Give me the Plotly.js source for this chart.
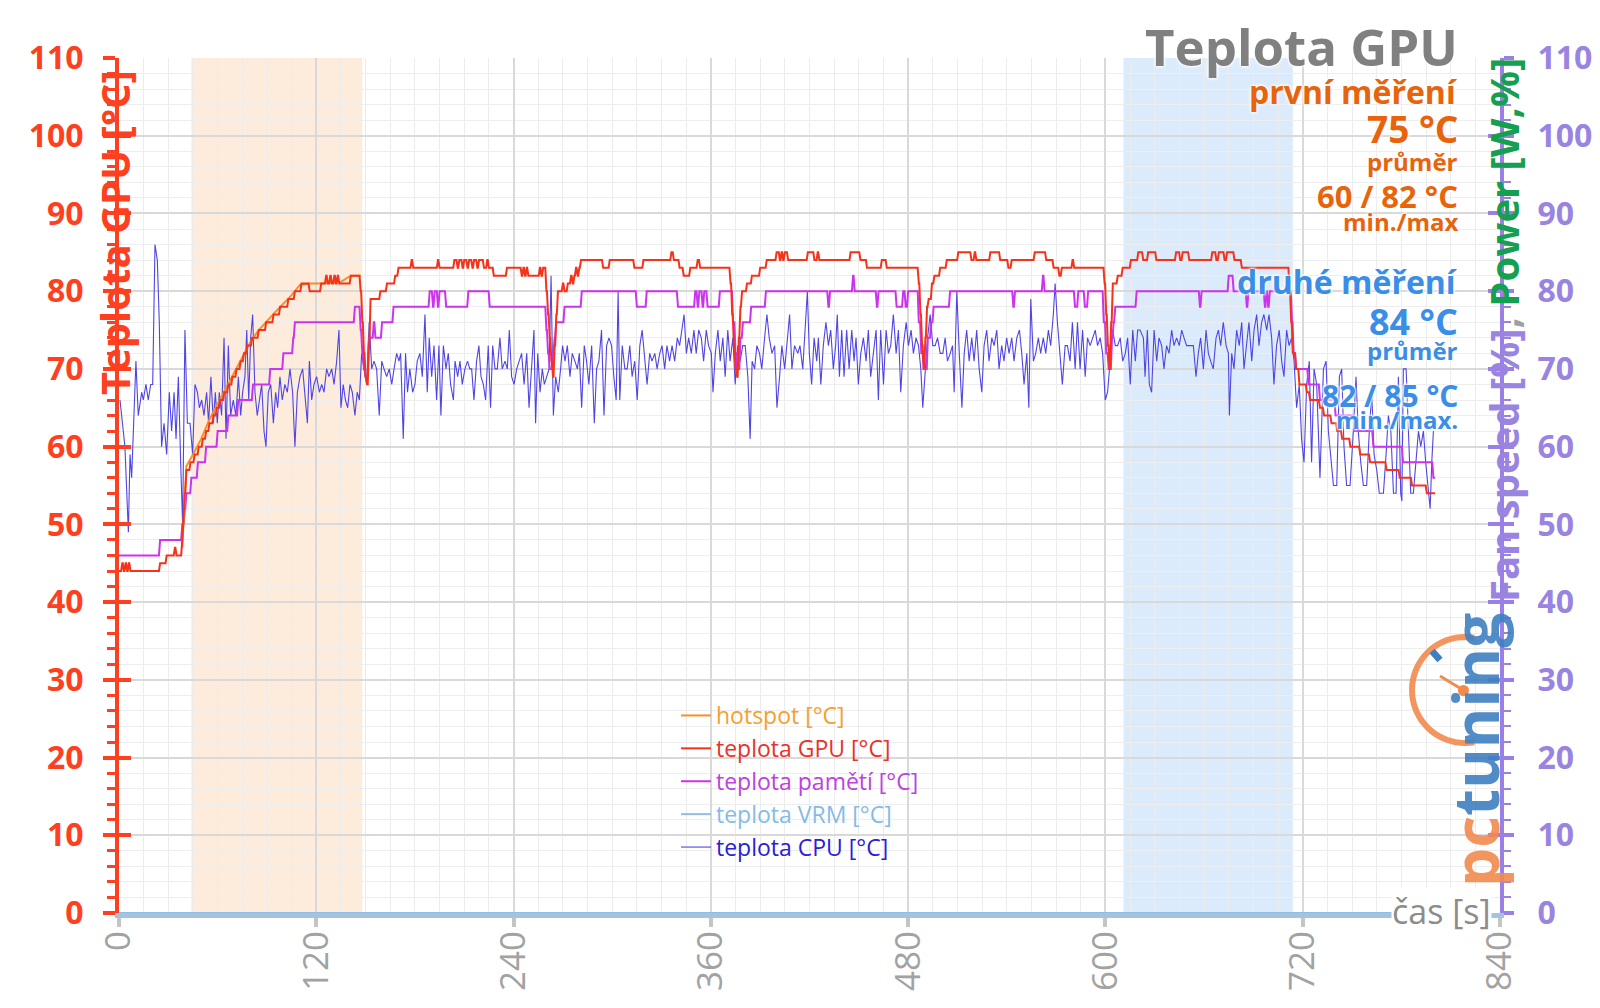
<!DOCTYPE html>
<html><head><meta charset="utf-8">
<script src="https://cdn.plot.ly/plotly-3.0.1.min.js"></script>
<style>html,body{margin:0;padding:0;background:#fff}#chart{width:1600px;height:1008px}</style>
</head><body><div id="chart"></div>
<script>
// ---------------- DATA ----------------
const xTicks = [0, 120, 240, 360, 480, 600, 720, 840];
const yTicks = [0, 10, 20, 30, 40, 50, 60, 70, 80, 90, 100, 110];
const firstWindow = [44, 148];
const secondWindow = [611, 714];
const seriesNames = ['hotspot [°C]', 'teplota GPU [°C]', 'teplota pamětí [°C]', 'teplota VRM [°C]', 'teplota CPU [°C]'];
const summaryFirst = ['první měření', '75 °C', 'průměr', '60 / 82 °C', 'min./max'];
const summarySecond = ['druhé měření', '84 °C', 'průměr', '82 / 85 °C', 'min./max.'];

// GPU temperature, step breakpoints [time s, °C] (value holds until the next breakpoint)
const gpuSteps = [[0,44],[2,45],[3,44],[4,45],[5,44],[6,45],[7,44],[25,45],[29,46],[34,47],[35,46],
[38.5,48],[39,51],[40,54],[41,57],[43.5,58],[46,59],[48.5,60],[51,61],[53,62],[55,63],[57.5,64],[59.5,65],[61.5,66],[64,67],[66.5,68],[69,69],[71.5,70],[74,71],[76,72],[78,73],[81,74],[85,75],[89.5,76],[94,77],[98,78],[103,79],[107,80],[111,81],[116,80],[123,81],[126,82],[127,81],[128.5,82],[129.5,81],[131,82],[132,81],[133,82],[134,81],[141,82],
[147,80],[148,76],[149,72],[150,69],[151,68],[152,73],[153,79],[159,80],[163,81],[168,82],[170,83],[178,84],[179,83],[194,84],[195,83],
[204,84],[206,83],[207,84],[209,83],[210,84],[212,83],[213,84],[215,83],[216,84],[218,83],[219,84],[222,83],[224,84],[225,83],
[228,82],[236,83],[245,82],[246,83],[247,82],[248,83],[249,82],[256,83],[257,82],[258,83],
[260,80],[261,77],[262,74],[263,71],[264,69],[265,73],[266,77],[267,80],[270,81],[271,80],[273,81],[275,82],[276,81],[277,82],[278,83],[279,82],[280,83],[281,84],
[294.5,83],[298.5,84],[313.5,83],[319,84],[336,85],[337.5,84],[341,83],[343.5,82],[347.5,83],[352,84],[353.5,83],
[372,81],[373,77],[374,73],[375,70],[376,69],[377,74],[378,78],[379,80],[382,81],[385,82],[390,83],[394,84],[400,85],[402,84],[403,85],[404,84],[405,85],[407,84],
[419,85],[423,84],[425,85],[426,84],[445,85],[451,84],[455,83],[464,84],[467,83],
[486.5,81],[487.5,77],[488.5,73],[489.5,70],[490.5,74],[491.5,78],[492.5,79],[494.5,81],[496,82],[499.5,83],[503.5,84],[510.5,85],[518.5,84],[520.5,85],[521.5,84],[530,85],[536,84],[541,83],[543,84],[557,85],[564,84],[568.5,83],[572,82],[573.5,83],[580,84],[581,83],
[599.5,81],[600.5,77],[601.5,73],[602.5,70],[603.5,76],[604.5,81],[607.5,82],[610.5,83],[615.5,84],[620,85],[623,84],[626,85],[631,84],[643,85],[645.5,84],[647,85],[651,84],[665,85],[667.5,84],[669,85],[672.5,84],[674,85],[678.5,84],[683,83],
[712,80],[713,76],[714,72],[716,70],[718,68],[722.5,67],[724.5,66],[730.5,65],[733,64],[737.5,63],[741,62],[744,61],[749,60],[755,59],[761,58],[771,57],[779,56],[786.5,55],[795.5,54],[800.5,54]];

// memory temperature, step breakpoints [time s, °C]
const memSteps = [[0,46],[25,48],[38.5,50],[40,52],[41,54],[44,56],[48,58],[53,60],[60,62],[66.5,64],[72.5,66],[81.5,68],[92,70],[100,72],[106,74],[107,76],[143.5,78],
[147,75],[148,72],[149,70],[150,69],[152,74],[155,76],[156,74],[160,76],[167,78],[189,80],[191,78],[192,80],[194,78],[195,80],[199,78],
[212.5,80],[225.5,78],[260,75],[261,72],[262,70],[264,72],[265,74],[266,76],[271,78],[281.5,80],[315,78],[321,80],[340,78],[350.5,80],[352,78],[353,80],[355,78],[356,80],[358,78],[365.5,80],
[373.5,76],[375,72],[376,70],[378,74],[379.5,76],[384.5,78],[393.5,80],
[431.5,78],[432.5,80],[446.5,82],[447.5,80],[461,78],[462,80],[473,78],[477,80],[478.5,78],[480,80],
[486.5,76],[488,72],[489.5,70],[492,74],[494,76],[495.5,78],[505.5,80],[544,78],[545,80],[562,82],[563,80],[581.5,78],[583.5,80],[587.5,78],[589.5,80],
[599,76],[600.5,72],[602,70],[604,74],[605,76],[606,78],[619,80],[657.5,78],[658.5,80],[675,82],[678,80],[686,78],[687,80],[697,78],[698,80],[699,78],[700,80],
[713.5,76],[714.5,72],[716,70],[723.5,68],[730.5,66],[740,64],[751.5,62],[763,60],[781,58],[799.5,56],[800.5,56]];

// hotspot [time s, °C] (visible during the first ramp)
const hotspotSamples = [[38.5,47],[41,57.5],[45,59],[50,61],[55,63.5],[60,65.5],[65,67.5],[70,69.5],[75,71.5],[80,73.5],[85,75],[90,76.2],[95,77.3],[100,78.4],[105,79.5],[110,80.8],[116,81],[124,81],[135,81.2],[141,82],[147,82]];

// VRM [time s, °C]
const vrmSamples = [[0,0],[800,0]];

// CPU temperature samples [time s, °C]
const cpuSamples = [[0.6,66],[3.6,60],[5.7,49],[6.7,59],[7.7,56],[10.3,71],[11.7,64],[13.8,67],[14.8,66],[16.4,68],[17.8,66],[19.3,68],[20.5,68],[21.9,86],[23.3,84],[24.5,76],[25.9,60],[27.4,63],[29,59],[30.6,67],[32,62],[33.5,67],[34.7,61],[36.1,69],[37.5,58],[38.7,50],[40.1,75],[41.6,63],[43.2,63],[44.8,59],[46.2,68],[47.7,67],[48.9,65],[50.3,66],[51.7,64],[53.3,67],[54.5,63],[55.9,69],[57.4,63],[58.6,67],[59.8,63],[61,67],[62.4,64],[63.9,74],[65.1,61],[66.5,73],[67.9,64],[69.5,66],[71.1,64],[72.6,69],[74,64],[75.2,67],[76.6,69],[77.7,75],[78.9,66],[80.1,74],[81.3,77],[82.7,67],[84.1,64],[85.3,66],[86.8,68],[88.2,62],[89.4,60],[90.8,67],[92.3,68],[93.9,63],[95.3,67],[96.5,65],[97.9,69],[99.3,66],[100.9,68],[102.4,67],[104,70],[105.6,67],[107,60],[108.5,67],[110.1,69],[111.7,70],[113.1,67],[114.6,63],[115.8,71],[117.2,66],[118.6,68],[120.2,69],[121.9,67],[123.3,68],[124.7,67],[126.3,70],[127.7,69],[129.4,70],[130.8,68],[132.4,71],[133.8,75],[135,65],[136.4,68],[137.7,66],[139.1,65],[140.5,68],[141.9,67],[143.5,64],[144.9,67],[146.2,66],[147.6,72],[149,70],[150.6,68],[152.2,76],[153.7,70],[155.1,71],[156.7,70],[158.3,64],[159.8,71],[161.2,70],[162.8,69],[164.4,70],[165.9,68],[167.3,70],[168.9,72],[170.3,71],[171.3,72],[172.9,61],[174.3,72],[175.5,67],[176.9,70],[178.6,67],[180,68],[181.4,71],[183,72],[184.5,69],[186.1,77],[187.5,67],[188.7,74],[190.2,69],[191.6,73],[193.2,66],[194.6,73],[195.8,64],[197.3,73],[198.9,70],[200.3,72],[201.7,68],[203.4,66],[204.4,71],
[206,69],[207.4,71],[208.8,68],[210.4,70],[212,71],[213.4,70],[214.5,70],[215.9,66],[217.5,71],[218.9,73],[220.2,69],[221.6,68],[223,66],[224.6,73],[226,65],[227.3,73],[228.7,70],[230.1,70],[231.7,74],[233.1,70],[234.8,71],[236.2,70],[237.4,75],[238.8,69],[240.3,68],[241.9,70],[243.3,71],[244.9,72],[246.4,68],[248,72],[249.4,65],[251,71],[252.4,75],[253.4,63],[254.7,72],[256.1,67],[257.5,70],[258.7,68],[260.2,69],[261.6,70],[262.8,82],[264.2,64],[265.6,69],[267.2,67],[268.6,70],[269.8,73],[271.3,71],[272.7,73],[274.3,69],[275.7,72],[277.3,71],[278.8,70],[280,72],[281.4,65],[283,73],[284.4,71],[285.8,68],[287.5,73],[289.1,63],[290.5,70],[291.9,71],[293.5,75],[295,64],[296.6,73],[298,74],[299.6,73],[301,69],[302.4,66],[303.6,80],[304.6,66],[306.1,73],[307.7,70],[309.1,70],[310.7,73],[312.1,69],[313.7,71],[315.2,66],[316.8,73],[318.2,75],[319.8,71],[321.2,68],[322.8,72],[324.2,71],[325.9,72],[327.3,70],[328.9,72],[330.3,73],[331.9,70],[333.3,73],[334.9,71],[336.4,73],[338,71],[339.6,74],[341,73],[342.4,75],[343.7,77],[345.1,72],[346.5,74],[348.1,72],[349.7,75],[351.1,72],[352.6,75],[354.2,74],[355.6,71],[357.2,75],[358.6,73],[360.3,72],[361.3,67],[362.7,72],[364.3,75],[365.7,71],[367.3,74],[368.7,69],[370.3,75],[371.7,71],[373.4,74],[374.8,68],[376.4,73],[377.8,71],[379.4,73],[380.9,73],[382.5,69],[383.9,61],[385.1,71],[386.6,70],[388,73],[389.6,72],[391,70],[392.7,74],[394.1,77],[395.5,74],[397.2,72],[398.8,73],[400.2,65],[401.8,69],[403.2,73],[404.9,70],[406.3,73],[407.9,77],[409.3,70],[410.9,73],[412.9,72],
[414.2,73],[415.9,70],[417.3,75],[418.7,80],[419.9,72],[421.3,68],[422.8,74],[424.4,71],[425.4,74],[426.9,68],[428.4,73],[430,76],[431.5,73],[432.9,75],[434.5,70],[435.9,73],[436.9,77],[438.2,69],[439.6,75],[441,69],[442.6,75],[444.1,70],[445.7,75],[447.1,71],[448.3,74],[449.7,68],[451.2,72],[452.8,74],[454.4,71],[455.8,75],[457.2,69],[458.9,72],[460.5,75],[461.9,66],[463.3,75],[465,68],[466.6,75],[468,72],[469.4,73],[471,77],[472.7,72],[474.1,75],[475.5,67],[477.1,73],[478.8,76],[480.2,73],[481.8,75],[483.2,72],[484.8,74],[486.3,73],[487.7,70],[488.9,65],[490.3,70],[491.8,74],[493.4,77],[495,73],[496.4,73],[497.9,74],[499.5,72],[501.1,72],[502.5,74],[503.9,71],[505.6,72],[507,73],[508,67],[509.6,80],[511.1,72],[512.7,65],[514.1,72],[515.6,75],[517.1,71],[518.7,74],[520.1,71],[521.7,75],[523.2,70],[524.8,67],[526.2,73],[527.8,75],[529.2,71],[530.9,74],[532.3,73],[533.9,75],[535.3,70],[536.9,73],[538.3,71],[539.9,74],[541.4,72],[543,74],[544.4,71],[546.1,74],[547.7,75],[549.1,72],[550.5,68],[552.2,72],[553.4,65],[554.6,79],[556.2,71],[557.6,72],[559.2,74],[560.6,72],[562.2,74],[563.7,72],[565.3,75],[566.7,73],[568.3,77],[569.4,81],[570.8,76],[572.4,72],[573.8,68],[575.5,73],[576.9,73],[578.5,71],[579.9,76],[581.6,70],[583,76],[584.6,70],[586.1,75],[587.7,69],[589.1,74],[590.7,73],[592.2,74],[593.8,75],[595.2,73],[596.8,74],[598.3,72],[599.9,66],[601.3,67],[603,71],[604.4,75],[606,73],[607.4,73],[609,74],[610.5,71],[612.1,72],[613.5,74],[615.1,68],[616.6,75],[618.2,71],[619.6,75],
[621,75],[623.1,74],[624.1,69],[625.5,75],[626.7,68],[628.1,67],[629.6,75],[631.2,71],[632.6,74],[634.2,73],[635.6,70],[637.2,73],[638.7,72],[640.3,75],[641.7,73],[643.3,74],[644.9,73],[646.4,75],[647.8,74],[649.4,73],[651.4,73],[653.5,73],[655.1,69],[656.5,72],[657.9,74],[659.6,70],[661.2,75],[662.6,72],[664,71],[665.6,70],[667.3,74],[668.7,75],[670.1,73],[671.7,76],[673.4,73],[674.8,72],[675.4,64],[676.8,72],[678.2,70],[679.8,75],[681.4,73],[682.9,76],[684.3,70],[685.9,73],[687.3,76],[689,71],[690.4,75],[692,77],[693.4,73],[695,76],[696.4,77],[698.1,75],[699.5,77],[701.1,74],[702.5,68],[704.1,73],[705.7,75],[707.2,71],[708.6,69],[710.2,75],[711.7,73],[713.3,74],[714.7,71],[716.3,65],[717.9,68],[719.3,61],[720.8,58],[722.4,68],[724,71],[725.4,58],[726.9,70],[728.5,68],[730.5,56],[732.6,70],[734.2,71],[735.6,62],[737.2,58],[738.7,55],[740.7,55],[742.3,69],[743.7,70],[745.1,60],[746.7,55],[748.8,55],[750.8,62],[752.4,69],[753.8,62],[755.3,58],[756.9,55],[758.9,55],[760.5,62],[762,67],[763.4,59],[765,57],[766.6,54],[768.1,54],[769.1,54],[770.7,59],[772.1,64],[773.6,62],[775.2,54],[776.8,54],[778.2,69],[779.6,54],[780.3,53],[781.2,70],[782.9,70],[784.3,62],[785.7,54],[787.3,54],[789,58],[790.4,62],[791.8,60],[793.4,62],[794.8,58],[796.5,54],[797.5,52],[798.5,58],[799.5,62]];

// ---------------- CHART ----------------
const col = p => p.map(v => v[0]);
const val = p => p.map(v => v[1]);
// step series: each reading is held until ~0.7 s before the next one (sensor sample spacing)
function held(steps, gap) {
  const out = [steps[0]];
  for (let i = 1; i < steps.length; i++) {
    const prev = steps[i - 1], cur = steps[i];
    if (cur[0] - gap > prev[0]) out.push([cur[0] - gap, prev[1]]);
    out.push(cur);
  }
  return out;
}
const gpuLine = held(gpuSteps, 0.7);
const memLine = held(memSteps, 0.7);

const F = 'Open Sans, Noto Sans, sans-serif';
const RED = '#ff4020', PURPLE = '#9a84e2';

const L = 119, T = 58, PW = 1381, PH = 855;
const px = X => (X - L) / PW;
const py = Y => (T + PH - Y) / PH;
const halo = '0 0 3px #fff, 0 0 3px #fff, 0 0 4px #fff';

const traces = [
  {x: col(cpuSamples), y: val(cpuSamples), name: '<span style="color:#2a20d8">' + seriesNames[4] + '</span>', legendrank: 5,
   mode: 'lines', line: {color: '#5045e4', width: 1.1}},
  {x: col(vrmSamples), y: val(vrmSamples), name: '<span style="color:#86bbe6">' + seriesNames[3] + '</span>', legendrank: 4,
   mode: 'lines', line: {color: '#8fbde6', width: 2}},
  {x: col(memLine), y: val(memLine), name: '<span style="color:#c040e0">' + seriesNames[2] + '</span>', legendrank: 3,
   mode: 'lines', line: {color: '#cc33ee', width: 2}},
  {x: col(hotspotSamples), y: val(hotspotSamples), name: '<span style="color:#f5a030">' + seriesNames[0] + '</span>', legendrank: 1,
   mode: 'lines', line: {color: '#f5902a', width: 2}},
  {x: col(gpuLine), y: val(gpuLine), name: '<span style="color:#e8322a">' + seriesNames[1] + '</span>', legendrank: 2,
   mode: 'lines', line: {color: '#f5321a', width: 2}},
  {x: [], y: [], yaxis: 'y2', showlegend: false, hoverinfo: 'skip'},
  {x: [], y: [], yaxis: 'y3', showlegend: false, hoverinfo: 'skip'},
  {x: [], y: [], yaxis: 'y4', showlegend: false, hoverinfo: 'skip'}
];

function ann(text, X, Y, size, color, extra) {
  return Object.assign({text: text, xref: 'paper', yref: 'paper', x: px(X), y: py(Y),
    xanchor: 'right', yanchor: 'middle', showarrow: false,
    font: {family: F, size: size, color: color, weight: 700, shadow: halo}}, extra || {});
}
const ORANGE = '#e8640c', BLUE = '#3a8ee8';
const annotations = [
  ann('Teplota GPU', 1460, 46, 51, '#808080'),
  ann(summaryFirst[0], 1460, 91, 32, ORANGE),
  ann(summaryFirst[1], 1460, 129, 37, ORANGE),
  ann(summaryFirst[2], 1460, 162, 24, ORANGE),
  ann(summaryFirst[3], 1460, 196, 31, ORANGE),
  ann(summaryFirst[4], 1460, 222, 24, ORANGE),
  ann(summarySecond[0], 1460, 281, 32, BLUE),
  ann(summarySecond[1], 1460, 321, 36, BLUE),
  ann(summarySecond[2], 1460, 350, 24, BLUE),
  ann(summarySecond[3], 1460, 395, 30, BLUE),
  ann(summarySecond[4], 1460, 419, 24, BLUE),
  ann('Teplota GPU [°C]', 114, 233, 40, RED, {xanchor: 'center', textangle: -90, font: {family: F, size: 40, color: RED, weight: 700}}),
  ann('<span style="color:#9a84e2">Fan speed [%]</span><span style="color:#a0a0a0">,</span> <span style="color:#14a050">Power [W,%]</span>',
      1503, 330, 40, PURPLE, {xanchor: 'center', textangle: -90, font: {family: F, size: 40, color: PURPLE, weight: 700}}),
  ann('čas [s]', 1492, 911, 34, '#8c8c8c', {bgcolor: '#ffffff', borderpad: 0, font: {family: F, size: 34, color: '#8c8c8c', weight: 400}}),
  ann('<span style="color:#f28a4e">pc</span><span style="color:#3f80c2">tuning</span>', 1475, 750, 62, '#3f80c2',
      {xanchor: 'center', textangle: -90, opacity: 0.9, font: {family: F, size: 62, color: '#3f80c2', weight: 700}})
];

// logo gauge decoration
const g = {cx: 1465, cy: 690, r: 53};
let arc = '';
for (let a = 80; a <= 280; a += 5) {
  const rad = a * Math.PI / 180;
  arc += (a === 80 ? 'M' : 'L') + px(g.cx + g.r * Math.cos(rad)).toFixed(5) + ',' + py(g.cy - g.r * Math.sin(rad)).toFixed(5) + ' ';
}
const bandStyle = {type: 'rect', xref: 'x', yref: 'paper', y0: 0, y1: 1, layer: 'below', line: {width: 0}};
const shapes = [
  Object.assign({x0: firstWindow[0], x1: firstWindow[1], fillcolor: 'rgba(252,230,208,0.75)'}, bandStyle),
  Object.assign({x0: secondWindow[0], x1: secondWindow[1], fillcolor: 'rgba(208,228,250,0.75)'}, bandStyle),
  {type: 'path', xref: 'paper', yref: 'paper', path: arc, line: {color: 'rgba(242,138,78,0.9)', width: 6}, layer: 'above'},
  {type: 'line', xref: 'paper', yref: 'paper', x0: px(1432), y0: py(651), x1: px(1440), y1: py(660), line: {color: '#3f80c2', width: 7}, layer: 'above'},
  {type: 'line', xref: 'paper', yref: 'paper', x0: px(1440), y0: py(676), x1: px(1463), y1: py(690), line: {color: '#f28a4e', width: 3}, layer: 'above'},
  {type: 'circle', xref: 'paper', yref: 'paper', x0: px(1458), y0: py(685), x1: px(1469), y1: py(696), fillcolor: '#f28a4e', line: {width: 0}, layer: 'above'}
];

const yBase = {range: [0, 110], tickvals: yTicks, fixedrange: true, zeroline: false};
const layout = {
  width: 1600, height: 1008,
  margin: {l: L, r: 1600 - L - PW, t: T, b: 1008 - T - PH, pad: 0},
  paper_bgcolor: '#ffffff', plot_bgcolor: 'rgba(0,0,0,0)',
  hovermode: false, showlegend: true,
  font: {family: F},
  xaxis: {range: [0, 840], tickvals: xTicks, ticktext: xTicks.map(String), tickangle: -90,
    showline: true, linecolor: '#a3c3df', linewidth: 5, zeroline: false,
    ticks: 'outside', ticklen: 9, tickwidth: 4, tickcolor: '#c4c4c4', ticklabelstandoff: -10,
    tickfont: {family: F, size: 35, color: '#a2a2a2'},
    showgrid: true, gridcolor: '#d9d9d9', gridwidth: 2,
    minor: {dtick: 15, tick0: 0, showgrid: true, gridcolor: '#ececec', gridwidth: 1}},
  yaxis: Object.assign({}, yBase, {showline: true, linecolor: RED, linewidth: 4,
    ticks: 'outside', ticklen: 12, tickwidth: 4, tickcolor: RED, ticklabelstandoff: 13,
    tickfont: {family: F, size: 32, color: RED, weight: 700},
    showgrid: true, gridcolor: '#d9d9d9', gridwidth: 2,
    minor: {dtick: 2, tick0: 0, ticks: 'outside', ticklen: 8, tickwidth: 3, tickcolor: RED, showgrid: true, gridcolor: '#eeeeee', gridwidth: 1}}),
  yaxis3: Object.assign({}, yBase, {overlaying: 'y', side: 'left', anchor: 'x', showline: false, showgrid: false,
    ticks: 'inside', ticklen: 12, tickwidth: 4, tickcolor: RED, showticklabels: false}),
  yaxis2: Object.assign({}, yBase, {overlaying: 'y', side: 'right', anchor: 'x', showline: true, linecolor: '#9a7fe6', linewidth: 4,
    ticks: 'outside', ticklen: 10, tickwidth: 4, tickcolor: '#9a7fe6', ticklabelstandoff: 17,
    tickfont: {family: F, size: 32, color: PURPLE, weight: 700}, showgrid: false,
    minor: {dtick: 2, tick0: 0, ticks: 'outside', ticklen: 7, tickwidth: 2, tickcolor: '#9a7fe6', showgrid: false}}),
  yaxis4: Object.assign({}, yBase, {overlaying: 'y', side: 'right', anchor: 'x', showline: false, showgrid: false,
    ticks: 'inside', ticklen: 12, tickwidth: 4, tickcolor: '#9a7fe6', showticklabels: false}),
  legend: {x: px(676), y: py(694), xanchor: 'left', yanchor: 'top', bgcolor: 'rgba(0,0,0,0)',
    font: {family: F, size: 23}, traceorder: 'normal', tracegroupgap: 0},
  annotations: annotations,
  shapes: shapes
};

Plotly.newPlot('chart', traces, layout, {staticPlot: true, displayModeBar: false});
</script></body></html>
